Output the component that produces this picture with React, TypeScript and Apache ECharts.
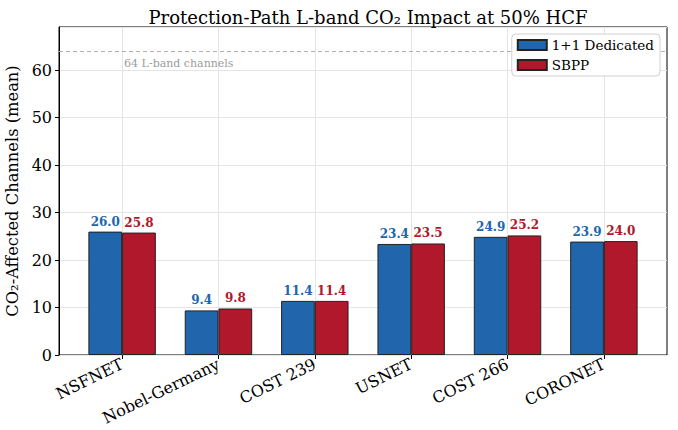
import React, { useEffect, useRef } from "react";
import * as echarts from "echarts";

const networks = ["NSFNET", "Nobel-Germany", "COST 239", "USNET", "COST 266", "CORONET"];
const dedicated = [26.0, 9.4, 11.4, 23.4, 24.9, 23.9];
const sbpp = [25.8, 9.8, 11.4, 23.5, 25.2, 24.0];
const lBandChannels = 64;
const yTicks = [0, 10, 20, 30, 40, 50, 60];

const BLUE = "#2166ac";
const RED = "#b2182b";
const FONT = "DejaVu Serif";

export default function App() {
  const ref = useRef<HTMLDivElement>(null);

  useEffect(() => {
    if (!ref.current) return;
    const chart = echarts.init(ref.current, null, { renderer: "svg" });
    const yMax = lBandChannels * 1.08;

    const frameLeft = 59;
    const frameRight = 11;
    const top = 27;
    const bottom = 75;
    const frameWidth = 678 - frameLeft - frameRight;
    // categories sit inside the frame with a margin of ~0.655 category on each side
    const span = networks.length - 1 + 2 * 0.655;
    const step = frameWidth / span;
    const innerLeft = frameLeft + 0.655 * step;
    const innerRight = frameRight + 0.655 * step;
    const barW = 0.35 * step;

    const valueLabel = (color: string) => ({
      show: true,
      position: "top" as const,
      distance: 4,
      color,
      fontFamily: FONT,
      fontWeight: "bold" as const,
      fontSize: 12,
      formatter: (p: any) => Number(p.value).toFixed(1),
    });

    chart.setOption({
      animation: false,
      backgroundColor: "#fff",
      title: {
        text: "Protection-Path L-band CO\u2082 Impact at 50% HCF",
        left: frameLeft + frameWidth / 2,
        textAlign: "center",
        top: 3,
        textStyle: { fontFamily: FONT, fontSize: 18, fontWeight: "normal", color: "#000" },
      },
      legend: {
        orient: "vertical",
        right: 18,
        top: 34,
        z: 10,
        icon: "rect",
        itemWidth: 29,
        itemHeight: 10,
        itemGap: 4,
        padding: [3, 6, 3, 5],
        borderColor: "#d0d0d0",
        borderWidth: 1,
        borderRadius: 4,
        backgroundColor: "#ffffff",
        textStyle: { fontFamily: FONT, fontSize: 13.5, color: "#000", lineHeight: 16 },
        data: ["1+1 Dedicated", "SBPP"],
      },
      grid: [
        {
          left: frameLeft,
          right: frameRight,
          top,
          bottom,
          outerBoundsMode: "none",
          show: true,
          borderColor: "#000",
          borderWidth: 1,
          backgroundColor: "transparent",
        },
        { left: innerLeft, right: innerRight, top, bottom, outerBoundsMode: "none" },
      ],
      xAxis: [
        { gridIndex: 0, type: "value", min: 0, max: 1, show: false },
        {
          gridIndex: 1,
          type: "category",
          data: networks,
          boundaryGap: false,
          axisLine: { show: false },
          axisTick: { show: true, length: 4, lineStyle: { color: "#000" } },
          splitLine: { show: true, lineStyle: { color: "#e5e5e5", width: 1 } },
          axisLabel: {
            rotate: 26,
            margin: 8,
            interval: 0,
            fontFamily: FONT,
            fontSize: 16,
            color: "#000",
          },
        },
      ],
      yAxis: [
        {
          gridIndex: 0,
          type: "value",
          min: 0,
          max: yMax,
          interval: 10,
          name: "CO\u2082-Affected Channels (mean)",
          nameLocation: "middle",
          nameGap: 38,
          nameTextStyle: { fontFamily: FONT, fontSize: 16.3, color: "#000" },
          axisLine: { show: true, lineStyle: { color: "#000" } },
          axisTick: { show: true, length: 4, lineStyle: { color: "#000" } },
          splitLine: { show: true, lineStyle: { color: "#e5e5e5", width: 1 } },
          axisLabel: {
            fontFamily: FONT,
            fontSize: 16,
            color: "#000",
            margin: 7,
            showMaxLabel: false,
            formatter: (v: number) => (yTicks.includes(v) ? String(v) : ""),
          },
        },
        { gridIndex: 1, type: "value", min: 0, max: yMax, interval: 10, show: false },
      ],
      series: [
        {
          name: "threshold",
          type: "line",
          xAxisIndex: 0,
          yAxisIndex: 0,
          data: [],
          silent: true,
          markLine: {
            symbol: "none",
            silent: true,
            label: { show: false },
            lineStyle: { color: "#b0b0b0", type: [4, 3], width: 1 },
            data: [{ yAxis: lBandChannels }],
          },
        },
        {
          name: "1+1 Dedicated",
          type: "bar",
          xAxisIndex: 1,
          yAxisIndex: 1,
          data: dedicated,
          barWidth: barW,
          barGap: "0%",
          clip: false,
          itemStyle: { color: BLUE, borderColor: "#222", borderWidth: 1 },
          label: valueLabel(BLUE),
        },
        {
          name: "SBPP",
          type: "bar",
          xAxisIndex: 1,
          yAxisIndex: 1,
          data: sbpp,
          barWidth: barW,
          barGap: "0%",
          clip: false,
          itemStyle: { color: RED, borderColor: "#222", borderWidth: 1 },
          label: valueLabel(RED),
        },
        {
          name: "thresholdLabel",
          type: "scatter",
          xAxisIndex: 1,
          yAxisIndex: 1,
          symbolSize: 0,
          silent: true,
          clip: false,
          data: [[0, lBandChannels - 2.5]],
          label: {
            show: true,
            position: "right",
            distance: 2,
            fontFamily: FONT,
            fontSize: 11,
            color: "#808080",
            formatter: `${lBandChannels} L-band channels`,
          },
        },
      ],
    });

    return () => chart.dispose();
  }, []);

  return (
    <div
      ref={ref}
      style={{ position: "fixed", left: 0, top: 0, width: 678, height: 430 }}
    />
  );
}
